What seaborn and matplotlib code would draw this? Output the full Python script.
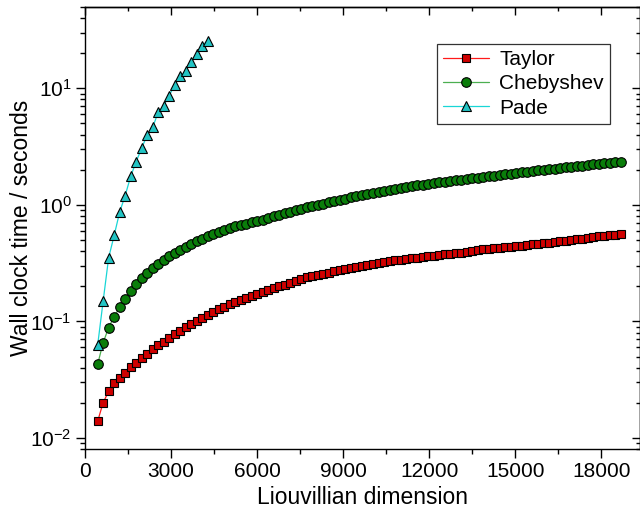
import numpy as np
import pandas as pd
import matplotlib
matplotlib.use("Agg")
import matplotlib.pyplot as plt
from matplotlib.ticker import MultipleLocator, LogLocator, NullFormatter
import seaborn as sns

# Liouvillian dimension grid shared by all propagators
dimension = [440 + 192 * k for k in range(96)]

taylor_time = [
    0.0139, 0.0201, 0.0251, 0.0298, 0.0327, 0.0362, 0.0404, 0.0442, 0.0485, 0.0528,
    0.0580, 0.0622, 0.0672, 0.0722, 0.0774, 0.0835, 0.0893, 0.0952, 0.101, 0.107,
    0.114, 0.121, 0.127, 0.134, 0.141, 0.147, 0.154, 0.160, 0.166, 0.172,
    0.179, 0.185, 0.192, 0.200, 0.207, 0.215, 0.224, 0.232, 0.238, 0.244,
    0.249, 0.256, 0.262, 0.268, 0.275, 0.282, 0.288, 0.294, 0.299, 0.304,
    0.310, 0.316, 0.321, 0.327, 0.333, 0.339, 0.344, 0.348, 0.352, 0.356,
    0.361, 0.366, 0.371, 0.376, 0.380, 0.385, 0.389, 0.394, 0.404, 0.409,
    0.414, 0.419, 0.423, 0.427, 0.432, 0.437, 0.442, 0.447, 0.452, 0.457,
    0.462, 0.469, 0.474, 0.481, 0.488, 0.494, 0.500, 0.507, 0.514, 0.520,
    0.527, 0.535, 0.542, 0.548, 0.556, 0.564,
]

chebyshev_time = [
    0.0428, 0.0657, 0.0883, 0.110, 0.132, 0.155, 0.181, 0.208, 0.236, 0.262,
    0.287, 0.312, 0.337, 0.361, 0.385, 0.410, 0.436, 0.461, 0.486, 0.510,
    0.535, 0.560, 0.585, 0.607, 0.628, 0.652, 0.672, 0.690, 0.710, 0.724,
    0.748, 0.771, 0.796, 0.820, 0.847, 0.873, 0.902, 0.929, 0.953, 0.977,
    1.000, 1.026, 1.052, 1.079, 1.104, 1.132, 1.161, 1.186, 1.211, 1.236,
    1.262, 1.288, 1.315, 1.343, 1.371, 1.400, 1.422, 1.445, 1.466, 1.489,
    1.510, 1.535, 1.556, 1.581, 1.603, 1.626, 1.644, 1.667, 1.690, 1.714,
    1.734, 1.758, 1.782, 1.803, 1.828, 1.854, 1.879, 1.901, 1.928, 1.954,
    1.977, 2.000, 2.023, 2.046, 2.070, 2.094, 2.118, 2.143, 2.168, 2.193,
    2.218, 2.244, 2.270, 2.296, 2.323, 2.350,
]

pade_time = [
    0.0622, 0.149, 0.351, 0.546, 0.865, 1.20, 1.75, 2.35, 3.05, 3.98,
    4.62, 6.22, 7.09, 8.64, 10.7, 12.6, 14.1, 16.7, 19.7, 23.2, 25.6,
]

x_ticks = [0, 3000, 6000, 9000, 12000, 15000, 18000]

sns.set_style("ticks")
plt.rcParams["font.family"] = ["Liberation Sans", "DejaVu Sans"]
plt.rcParams["mathtext.fontset"] = "custom"
plt.rcParams["mathtext.rm"] = "Liberation Sans"
plt.rcParams["mathtext.it"] = "Liberation Sans:italic"
plt.rcParams["mathtext.default"] = "regular"
plt.rcParams["axes.unicode_minus"] = False
for key in ("text.color", "axes.labelcolor", "xtick.color", "ytick.color",
            "axes.edgecolor"):
    plt.rcParams[key] = "black"

fig = plt.figure(figsize=(6.4, 5.22), dpi=100)
ax = fig.add_axes([85 / 640, 72.7 / 522, 554.5 / 640, 442.6 / 522])

series = [
    ("Taylor", dimension, taylor_time, "s", "#ff1a1a", "#d00000", 6.4),
    ("Chebyshev", dimension, chebyshev_time, "o", "#4caf50", "#0a7d0a", 6.9),
    ("Pade", dimension[:len(pade_time)], pade_time, "^", "#19d6d6", "#22c4c4", 7.8),
]

for name, xs, ys, mk, line_c, face_c, ms in series:
    df = pd.DataFrame({"dimension": xs, "time": ys})
    sns.lineplot(
        data=df, x="dimension", y="time", ax=ax, estimator=None,
        color=line_c, linewidth=0.9, marker=mk, markersize=ms,
        markerfacecolor=face_c, markeredgecolor="black", markeredgewidth=0.8,
        label=name,
    )

ax.set_yscale("log")
ax.set_xlim(0, 19330)
ax.set_ylim(0.008, 50)

ax.set_xticks(x_ticks)
ax.xaxis.set_minor_locator(MultipleLocator(1500))
ax.yaxis.set_major_locator(LogLocator(base=10))
ax.yaxis.set_minor_locator(LogLocator(base=10, subs=np.arange(2, 10)))
ax.yaxis.set_minor_formatter(NullFormatter())

for side in ax.spines.values():
    side.set_linewidth(1.0)
    side.set_color("black")

ax.tick_params(which="major", direction="out", length=6.5, width=1.0,
               labelsize=15, colors="black", pad=3)
ax.tick_params(which="minor", direction="out", length=3.6, width=1.0,
               colors="black")

# mirrored inward ticks on the opposite sides
top = ax.secondary_xaxis("top")
top.set_xticks(x_ticks)
top.xaxis.set_minor_locator(MultipleLocator(1500))
top.tick_params(which="major", direction="in", length=6, width=1.0, labeltop=False)
top.tick_params(which="minor", direction="in", length=3, width=1.0)
top.spines["top"].set_linewidth(1.0)

right = ax.secondary_yaxis("right")
right.yaxis.set_major_locator(LogLocator(base=10))
right.yaxis.set_minor_locator(LogLocator(base=10, subs=np.arange(2, 10)))
right.tick_params(which="major", direction="in", length=6, width=1.0, labelright=False)
right.tick_params(which="minor", direction="in", length=3, width=1.0, labelright=False)
right.spines["right"].set_linewidth(1.0)

ax.set_xlabel("Liouvillian dimension", fontsize=16.5, labelpad=3)
ax.set_ylabel("Wall clock time / seconds", fontsize=16.5)
ax.yaxis.set_label_coords(-0.093, 0.5)

leg = ax.legend(
    loc="upper left", bbox_to_anchor=(437 / 640, 1 - 44 / 522),
    bbox_transform=fig.transFigure, borderaxespad=0, fontsize=15,
    frameon=True, fancybox=False, framealpha=1, edgecolor="#333333",
    handlelength=2.2, handletextpad=0.5, labelspacing=0.25, borderpad=0.3,
)
leg.get_frame().set_linewidth(0.9)

fig.savefig("out.png", dpi=100)
